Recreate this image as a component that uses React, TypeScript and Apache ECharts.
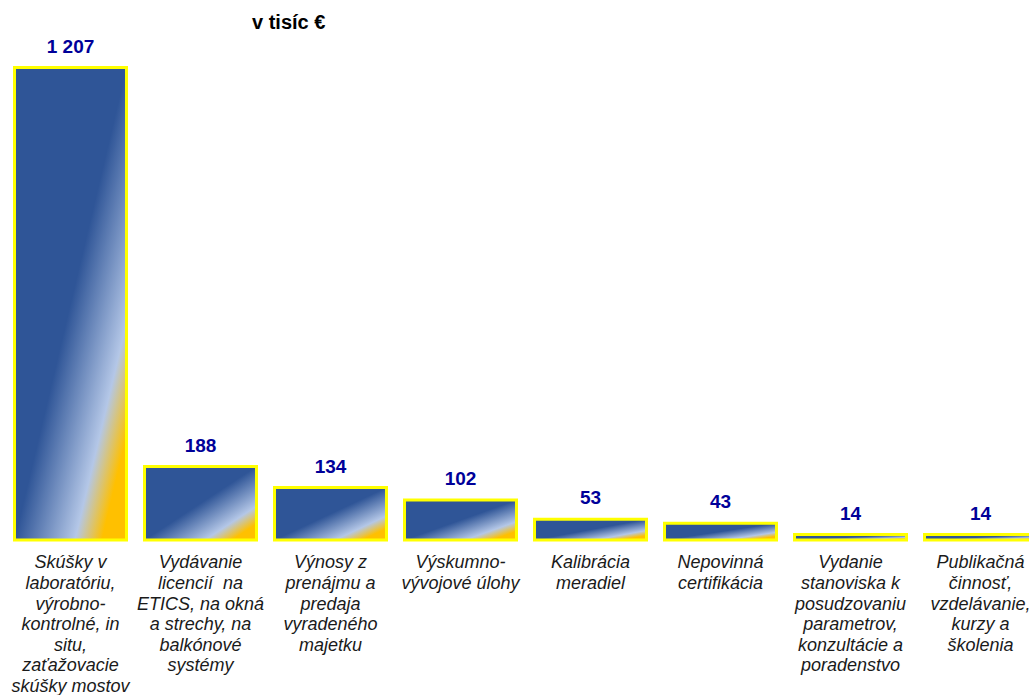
import React, { useEffect, useRef } from "react";
import * as echarts from "echarts";

const categories: string[] = [
  "Skúšky v\nlaboratóriu,\nvýrobno-\nkontrolné, in\nsitu,\nzaťažovacie\nskúšky mostov",
  "Vydávanie\nlicencií  na\nETICS, na okná\na strechy, na\nbalkónové\nsystémy",
  "Výnosy z\nprenájmu a\npredaja\nvyradeného\nmajetku",
  "Výskumno-\nvývojové úlohy",
  "Kalibrácia\nmeradiel",
  "Nepovinná\ncertifikácia",
  "Vydanie\nstanoviska k\nposudzovaniu\nparametrov,\nkonzultácie a\nporadenstvo",
  "Publikačná\nčinnosť,\nvzdelávanie,\nkurzy a\nškolenia",
];
const values: number[] = [1207, 188, 134, 102, 53, 43, 14, 14];
const chartTitle = "v tisíc €";

const FONT = "'Liberation Sans', Arial, sans-serif";
const BAR_RATIO = 112 / 130;

function fmt(v: number): string {
  return String(v).replace(/\B(?=(\d{3})+(?!\d))/g, " ");
}

function makeGradient() {
  return new echarts.graphic.LinearGradient(0, 0, 1, 1, [
    { offset: 0, color: "#2F5597" },
    { offset: 0.5, color: "#2F5597" },
    { offset: 0.77, color: "#B4C7E7" },
    { offset: 0.89, color: "#FFC000" },
    { offset: 1, color: "#FFC000" },
  ]);
}

export default function App() {
  const ref = useRef<HTMLDivElement>(null);
  useEffect(() => {
    if (!ref.current) return;
    const chart = echarts.init(ref.current, undefined, { renderer: "svg" });
    chart.setOption({
      animation: false,
      backgroundColor: "#FFFFFF",
      title: {
        text: chartTitle,
        left: 252,
        top: 12,
        padding: 0,
        textStyle: { fontFamily: FONT, fontSize: 20, fontWeight: "bold", color: "#000000" },
      },
      grid: {
        left: 5.5,
        width: 1040,
        top: 67.5,
        bottom: 155,
        containLabel: false,
        outerBoundsMode: "none",
      },
      xAxis: {
        type: "category",
        data: categories,
        axisLine: { show: false },
        axisTick: { show: false },
        axisLabel: {
          interval: 0,
          margin: 12,
          fontFamily: FONT,
          fontSize: 18,
          fontStyle: "italic",
          lineHeight: 20.6,
          color: "#1A1A1A",
        },
      },
      yAxis: {
        type: "value",
        min: 0,
        max: 1207,
        show: false,
        splitLine: { show: false },
      },
      series: [
        {
          type: "custom",
          data: values.map((v, i) => [i, v]),
          encode: { x: 0, y: 1 },
          renderItem: (params: any, api: any) => {
            const idx = api.value(0);
            const val = api.value(1);
            const top = api.coord([idx, val]);
            const base = api.coord([idx, 0]);
            const w = api.size([1, 0])[0] * BAR_RATIO;
            const h = base[1] - top[1];
            return {
              type: "group",
              children: [
                {
                  type: "rect",
                  shape: { x: top[0] - w / 2, y: top[1], width: w, height: h },
                  style: { fill: makeGradient(), stroke: "#FFFF00", lineWidth: 3 },
                },
                {
                  type: "text",
                  style: {
                    text: fmt(val),
                    x: top[0],
                    y: top[1] - 21.3,
                    align: "center",
                    verticalAlign: "middle",
                    fill: "#000099",
                    fontFamily: FONT,
                    fontSize: 19,
                    fontWeight: "bold",
                  },
                },
              ],
            };
          },
        },
      ],
    });
    return () => chart.dispose();
  }, []);
  return (
    <div
      ref={ref}
      style={{ position: "absolute", left: 0, top: 0, width: 1029, height: 695 }}
    />
  );
}
